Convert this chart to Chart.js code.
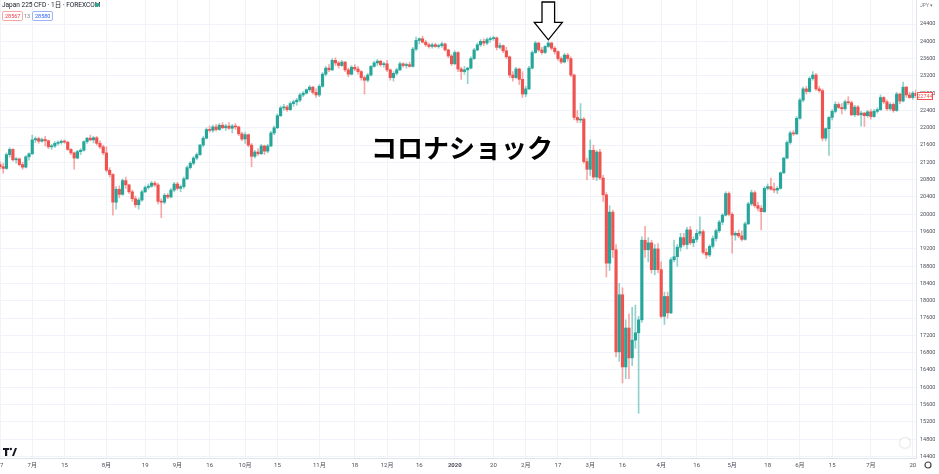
<!DOCTYPE html>
<html>
<head>
<meta charset="utf-8">
<script src="https://cdn.jsdelivr.net/npm/chart.js"></script>
<style>
html, body { margin: 0; padding: 0; background: #fff; }
#wrap { position: relative; width: 939px; height: 474px; overflow: hidden; font-family: Roboto, 'Noto Sans CJK JP', sans-serif; }
#wrap canvas { position: absolute; left: 0; top: 0; }
.hdr { position: absolute; left: 2px; top: 1px; font-size: 6.5px; color: #131722; white-space: nowrap; line-height: 8px; }
.dot { position: absolute; left: 95px; top: 3px; width: 4px; height: 4px; border-radius: 50%; background: #22ab94; }
.box { position: absolute; top: 11px; height: 8px; font-size: 5.5px; line-height: 8px; padding: 0 2px; border-radius: 2px; background: #fff; }
.bid { left: 2px; border: 1px solid #f7a9a7; color: #f23645; }
.spr { position: absolute; left: 24px; top: 12px; font-size: 5.5px; color: #787b86; line-height: 8px; }
.ask { left: 32px; border: 1px solid #9db2f5; color: #2962ff; }
.cur { position: absolute; left: 920px; top: 1px; font-size: 5px; color: #787b86; line-height: 8px; }
.note { position: absolute; left: 371px; top: 133px; font-size: 26px; line-height: 28px; font-weight: 700; color: #000; font-family: 'Noto Sans CJK JP', sans-serif; white-space: nowrap; }
.btn { position: absolute; left: 900px; top: 438px; width: 10px; height: 10px; border-radius: 50%; background: #fff; box-shadow: 0 0 2px rgba(0,0,0,0.3); }
</style>
</head>
<body>
<div id="wrap">
  <canvas id="priceChart" width="939" height="474"></canvas>
  <div class="hdr">Japan 225 CFD · 1日 · FOREXCOM</div>
  <div class="dot"></div>
  <div class="box bid">28567</div>
  <div class="spr">13</div>
  <div class="box ask">28580</div>
  <div class="cur">JPY ▾</div>
  <div class="note">コロナショック</div>
  <div class="btn"></div>
  <svg style="position:absolute;left:3px;top:447px" width="14" height="10" viewBox="0 0 14 10">
    <path d="M0 1h6v2H4.2v6H2V3H0z" fill="#131722"/>
    <circle cx="7.8" cy="2" r="1.2" fill="#131722"/>
    <path d="M9 9l3-8h2l-3 8z" fill="#131722"/>
  </svg>
  <svg style="position:absolute;left:923px;top:460px" width="10" height="10" viewBox="0 0 10 10">
    <circle cx="5" cy="5" r="3" fill="none" stroke="#444" stroke-width="1.2"/>
  </svg>
</div>
<script>
// daily candles: [day, open, high, low, close]
const jun2019 = [
    [17, 21150, 21220, 21050, 21100], [18, 21100, 21180, 20950, 21060], [19, 21060, 21420, 21040, 21380],
    [20, 21380, 21540, 21320, 21500], [21, 21500, 21520, 21230, 21260], [24, 21260, 21320, 21180, 21280],
    [25, 21280, 21300, 21120, 21150], [26, 21150, 21200, 21040, 21090], [27, 21090, 21360, 21070, 21330],
    [28, 21330, 21420, 21250, 21400]
];
const jul2019 = [
    [1, 21400, 21830, 21380, 21720], [2, 21720, 21790, 21660, 21750], [3, 21750, 21780, 21640, 21690],
    [4, 21690, 21760, 21670, 21730], [5, 21730, 21800, 21580, 21700], [8, 21700, 21720, 21520, 21560],
    [9, 21560, 21620, 21500, 21580], [10, 21580, 21680, 21540, 21640], [11, 21640, 21700, 21600, 21660],
    [12, 21660, 21720, 21620, 21690], [15, 21690, 21720, 21640, 21670], [16, 21670, 21680, 21480, 21500],
    [17, 21500, 21520, 21380, 21420], [18, 21420, 21440, 21040, 21300], [19, 21300, 21480, 21280, 21450],
    [22, 21450, 21520, 21380, 21480], [23, 21480, 21700, 21460, 21680], [24, 21680, 21780, 21640, 21760],
    [25, 21760, 21830, 21700, 21720], [26, 21720, 21800, 21650, 21770], [29, 21770, 21800, 21600, 21640],
    [30, 21640, 21700, 21520, 21560], [31, 21560, 21600, 21380, 21420]
];
const aug2019 = [
    [1, 21420, 21560, 20980, 21020], [2, 21020, 21080, 20860, 20920], [5, 20920, 20940, 19980, 20280],
    [6, 20280, 20640, 20120, 20580], [7, 20580, 20660, 20380, 20460], [8, 20460, 20820, 20440, 20780],
    [9, 20780, 20860, 20600, 20680], [12, 20680, 20700, 20480, 20520], [13, 20520, 20560, 20300, 20360],
    [14, 20360, 20420, 20160, 20220], [15, 20220, 20380, 20120, 20330], [16, 20330, 20560, 20300, 20520],
    [19, 20520, 20660, 20500, 20620], [20, 20620, 20700, 20580, 20650], [21, 20650, 20760, 20620, 20720],
    [22, 20720, 20760, 20640, 20680], [23, 20680, 20720, 20240, 20300], [26, 20300, 20360, 19920, 20280],
    [27, 20280, 20480, 20240, 20440], [28, 20440, 20480, 20360, 20400], [29, 20400, 20600, 20380, 20560],
    [30, 20560, 20740, 20520, 20700]
];
const sep2019 = [
    [2, 20700, 20740, 20560, 20600], [3, 20600, 20680, 20520, 20640], [4, 20640, 20860, 20600, 20820],
    [5, 20820, 21120, 20800, 21080], [6, 21080, 21220, 21040, 21180], [9, 21180, 21340, 21140, 21300],
    [10, 21300, 21420, 21260, 21380], [11, 21380, 21620, 21360, 21600], [12, 21600, 21800, 21560, 21760],
    [13, 21760, 22000, 21740, 21960], [16, 21960, 22040, 21900, 21940], [17, 21940, 22060, 21900, 22020],
    [18, 22020, 22080, 21920, 21960], [19, 21960, 22100, 21940, 22060], [20, 22060, 22120, 21980, 22000],
    [23, 22000, 22080, 21940, 22040], [24, 22040, 22120, 21960, 21990], [25, 21990, 22080, 21880, 22040],
    [26, 22040, 22100, 21960, 22020], [27, 22020, 22040, 21820, 21860], [30, 21860, 21900, 21700, 21740]
];
const oct2019 = [
    [1, 21740, 21900, 21640, 21840], [2, 21840, 21860, 21560, 21600], [3, 21600, 21640, 21100, 21340],
    [4, 21340, 21480, 21300, 21440], [7, 21440, 21520, 21360, 21400], [8, 21400, 21620, 21380, 21580],
    [9, 21580, 21600, 21380, 21460], [10, 21460, 21620, 21420, 21580], [11, 21580, 21920, 21560, 21880],
    [14, 21880, 22040, 21840, 22000], [15, 22000, 22320, 21980, 22280], [16, 22280, 22500, 22260, 22460],
    [17, 22460, 22540, 22400, 22480], [18, 22480, 22520, 22380, 22420], [21, 22420, 22600, 22400, 22560],
    [22, 22560, 22640, 22500, 22600], [23, 22600, 22680, 22520, 22640], [24, 22640, 22800, 22600, 22760],
    [25, 22760, 22840, 22720, 22800], [28, 22800, 22900, 22780, 22880], [29, 22880, 22980, 22840, 22940],
    [30, 22940, 22960, 22780, 22820], [31, 22820, 22900, 22700, 22760]
];
const nov2019 = [
    [1, 22760, 23000, 22720, 22960], [4, 22960, 23280, 22940, 23240], [5, 23240, 23420, 23200, 23380],
    [6, 23380, 23460, 23300, 23340], [7, 23340, 23600, 23320, 23560], [8, 23560, 23620, 23440, 23500],
    [11, 23500, 23540, 23380, 23440], [12, 23440, 23560, 23420, 23520], [13, 23520, 23530, 23300, 23340],
    [14, 23340, 23380, 23180, 23240], [15, 23240, 23440, 23220, 23400], [18, 23400, 23460, 23320, 23360],
    [19, 23360, 23420, 23240, 23300], [20, 23300, 23320, 23100, 23160], [21, 23160, 23200, 22780, 23100],
    [22, 23100, 23260, 23060, 23220], [25, 23220, 23440, 23200, 23420], [26, 23420, 23540, 23400, 23500],
    [27, 23500, 23580, 23440, 23540], [28, 23540, 23560, 23420, 23460], [29, 23460, 23520, 23400, 23480]
];
const dec2019 = [
    [2, 23480, 23560, 23300, 23340], [3, 23340, 23360, 23100, 23160], [4, 23160, 23300, 23080, 23260],
    [5, 23260, 23380, 23220, 23340], [6, 23340, 23520, 23320, 23480], [9, 23480, 23500, 23400, 23440],
    [10, 23440, 23500, 23380, 23460], [11, 23460, 23520, 23400, 23420], [12, 23420, 23860, 23400, 23820],
    [13, 23820, 24100, 23780, 24020], [16, 24020, 24080, 23940, 24060], [17, 24060, 24120, 23960, 23980],
    [18, 23980, 24020, 23880, 23920], [19, 23920, 23960, 23840, 23880], [20, 23880, 23960, 23840, 23920],
    [23, 23920, 23960, 23860, 23880], [24, 23880, 23940, 23840, 23900], [26, 23900, 23980, 23860, 23940],
    [27, 23940, 23960, 23780, 23800], [30, 23800, 23820, 23620, 23660], [31, 23660, 23700, 23440, 23480]
];
const jan2020 = [
    [2, 23480, 23780, 23460, 23740], [3, 23740, 23760, 23300, 23360], [6, 23360, 23400, 23120, 23300],
    [7, 23300, 23420, 23240, 23340], [8, 23340, 23400, 23020, 23380], [9, 23380, 23640, 23360, 23600],
    [10, 23600, 23840, 23580, 23800], [13, 23800, 23960, 23780, 23920], [14, 23920, 24040, 23880, 24000],
    [15, 24000, 24060, 23900, 23960], [16, 23960, 24080, 23920, 24040], [17, 24040, 24100, 23980, 24060],
    [20, 24060, 24120, 24020, 24080], [21, 24080, 24100, 23800, 23860], [22, 23860, 23960, 23820, 23900],
    [23, 23900, 23920, 23740, 23780], [24, 23780, 23860, 23600, 23640], [27, 23640, 23660, 23160, 23220],
    [28, 23220, 23300, 23080, 23160], [29, 23160, 23400, 23140, 23360], [30, 23360, 23380, 23000, 23120],
    [31, 23120, 23300, 22700, 22780]
];
const feb2020 = [
    [3, 22780, 22960, 22720, 22900], [4, 22900, 23420, 22880, 23380], [5, 23380, 23780, 23360, 23740],
    [6, 23740, 24000, 23720, 23960], [7, 23960, 23980, 23760, 23800], [10, 23800, 23860, 23700, 23740],
    [11, 23740, 23900, 23720, 23880], [12, 23880, 24000, 23860, 23960], [13, 23960, 23980, 23800, 23840],
    [14, 23840, 23880, 23700, 23760], [17, 23760, 23780, 23560, 23600], [18, 23600, 23640, 23480, 23520],
    [19, 23520, 23720, 23500, 23680], [20, 23680, 23720, 23540, 23600], [21, 23600, 23640, 23180, 23220],
    [24, 23220, 23240, 22180, 22240], [25, 22240, 22400, 22120, 22180], [26, 22180, 22560, 22120, 22200],
    [27, 22200, 22240, 21180, 21220], [28, 21220, 21300, 20800, 21040]
];
const mar2020 = [
    [2, 21040, 21720, 20900, 21480], [3, 21480, 21600, 20800, 20860], [4, 20860, 21480, 20780, 21440],
    [5, 21440, 21500, 20800, 20840], [6, 20840, 20900, 20300, 20450], [9, 20450, 20500, 18550, 18870],
    [10, 18870, 20200, 18700, 20050], [11, 20050, 20100, 19000, 19180], [12, 19180, 19300, 16700, 16820],
    [13, 16820, 18400, 16600, 18140], [16, 18140, 18300, 16100, 16470], [17, 16470, 17560, 16200, 17370],
    [18, 17370, 17700, 16200, 16680], [19, 16680, 17850, 16500, 17090], [20, 17090, 17900, 16900, 17260],
    [23, 17260, 17640, 15400, 17560], [24, 17560, 19480, 17500, 19400], [25, 19400, 19720, 19000, 19180],
    [26, 19180, 19460, 18900, 19340], [27, 19340, 19400, 18640, 18720], [30, 18720, 19300, 18600, 19200],
    [31, 19200, 19320, 18650, 18720]
];
const apr2020 = [
    [1, 18720, 18900, 17600, 17640], [2, 17640, 18200, 17450, 18100], [3, 18100, 18200, 17600, 17720],
    [6, 17720, 19000, 17700, 18950], [7, 18950, 19400, 18900, 19020], [8, 19020, 19300, 18800, 19240],
    [9, 19240, 19560, 19150, 19460], [10, 19460, 19560, 19260, 19300], [13, 19300, 19700, 19200, 19640],
    [14, 19640, 19720, 19300, 19340], [15, 19340, 19480, 19250, 19420], [16, 19420, 19640, 19360, 19560],
    [17, 19560, 19940, 19500, 19600], [20, 19600, 19640, 19080, 19120], [21, 19120, 19200, 18980, 19060],
    [22, 19060, 19300, 19020, 19260], [23, 19260, 19500, 19220, 19440], [24, 19440, 19660, 19380, 19620],
    [27, 19620, 19860, 19580, 19820], [28, 19820, 20020, 19760, 19980], [29, 19980, 20520, 19960, 20480],
    [30, 20480, 20520, 19960, 20000]
];
const may2020 = [
    [1, 20000, 20040, 19100, 19520], [4, 19520, 19600, 19400, 19560], [5, 19560, 19640, 19460, 19500],
    [6, 19500, 19620, 19380, 19420], [7, 19420, 19820, 19400, 19780], [8, 19780, 20280, 19760, 20240],
    [11, 20240, 20560, 20200, 20500], [12, 20500, 20540, 20160, 20200], [13, 20200, 20280, 20080, 20140],
    [14, 20140, 20200, 19640, 20060], [15, 20060, 20640, 20040, 20600], [18, 20600, 20700, 20560, 20640],
    [19, 20640, 20840, 20560, 20580], [20, 20580, 20720, 20500, 20560], [21, 20560, 20640, 20480, 20600],
    [22, 20600, 20980, 20580, 20960], [25, 20960, 21320, 20940, 21300], [26, 21300, 21700, 21280, 21660],
    [27, 21660, 21920, 21620, 21880], [28, 21880, 21940, 21820, 21860], [29, 21860, 22260, 21840, 22220]
];
const jun2020 = [
    [1, 22220, 22680, 22200, 22640], [2, 22640, 22940, 22600, 22900], [3, 22900, 22960, 22780, 22840],
    [4, 22840, 23180, 22820, 23140], [5, 23140, 23300, 23100, 23220], [8, 23220, 23260, 22860, 22900],
    [9, 22900, 22960, 22820, 22860], [10, 22860, 22900, 21700, 21760], [11, 21760, 22000, 21700, 21980],
    [12, 21980, 22260, 21360, 22240], [15, 22240, 22420, 22180, 22380], [16, 22380, 22600, 22340, 22540],
    [17, 22540, 22580, 22440, 22470], [18, 22470, 22560, 22320, 22440], [19, 22440, 22640, 22400, 22600],
    [22, 22600, 22720, 22540, 22580], [23, 22580, 22620, 22280, 22300], [24, 22300, 22520, 22260, 22480],
    [25, 22480, 22520, 22280, 22300], [26, 22300, 22380, 22040, 22340], [29, 22340, 22360, 22030, 22280],
    [30, 22280, 22400, 22240, 22370]
];
const jul2020 = [
    [1, 22370, 22420, 22200, 22260], [2, 22260, 22420, 22240, 22380], [3, 22380, 22460, 22340, 22420],
    [6, 22420, 22760, 22400, 22700], [7, 22700, 22720, 22560, 22600], [8, 22600, 22640, 22400, 22440],
    [9, 22440, 22580, 22400, 22540], [10, 22540, 22580, 22360, 22400], [13, 22400, 22820, 22380, 22780],
    [14, 22780, 22800, 22560, 22620], [15, 22620, 23060, 22600, 22940], [16, 22940, 22960, 22700, 22760],
    [17, 22760, 22820, 22680, 22700], [20, 22700, 22840, 22660, 22800], [21, 22800, 22880, 22700, 22744]
];

const months = [
    ['2019-06', jun2019], ['2019-07', jul2019], ['2019-08', aug2019], ['2019-09', sep2019],
    ['2019-10', oct2019], ['2019-11', nov2019], ['2019-12', dec2019], ['2020-01', jan2020],
    ['2020-02', feb2020], ['2020-03', mar2020], ['2020-04', apr2020], ['2020-05', may2020],
    ['2020-06', jun2020], ['2020-07', jul2020]
];

// bottom axis labels
const tickText = {
    '2019-06-17': '17', '2019-07-01': '7月', '2019-07-15': '15', '2019-08-01': '8月', '2019-08-19': '19',
    '2019-09-02': '9月', '2019-09-16': '16', '2019-10-01': '10月', '2019-10-15': '15', '2019-11-01': '11月',
    '2019-11-18': '18', '2019-12-02': '12月', '2019-12-16': '16', '2020-01-02': '2020', '2020-01-20': '20',
    '2020-02-03': '2月', '2020-02-17': '17', '2020-03-02': '3月', '2020-03-16': '16', '2020-04-01': '4月',
    '2020-04-16': '16', '2020-05-01': '5月', '2020-05-18': '18', '2020-06-01': '6月', '2020-06-15': '15',
    '2020-07-01': '7月', '2020-07-20': '20'
};
const priceTicks = [14400, 14800, 15200, 15600, 16000, 16400, 16800, 17200, 17600, 18000, 18400, 18800,
    19200, 19600, 20000, 20400, 20800, 21200, 21600, 22000, 22400, 22800, 23200, 23600, 24000, 24400];
const arrowDate = '2020-02-12';

const labels = [], opens = [], highs = [], lows = [], closes = [];
months.forEach(([prefix, rows]) => {
    rows.forEach(r => {
        labels.push(prefix + '-' + String(r[0]).padStart(2, '0'));
        opens.push(r[1]); highs.push(r[2]); lows.push(r[3]); closes.push(r[4]);
    });
});

const UP = '#26a69a';
const DOWN = '#ef5350';
const isUp = closes.map((c, i) => c >= opens[i]);

const extras = {
    id: 'extras',
    afterDraw(chart) {
        const ctx = chart.ctx;
        const xs = chart.scales.x, ys = chart.scales.y;
        const area = chart.chartArea;

        // last price tag on the price axis
        const last = closes[closes.length - 1];
        const py = Math.round(ys.getPixelForValue(last));
        ctx.save();
        ctx.fillStyle = '#fff';
        ctx.fillRect(area.right + 1, py - 4, 16, 8);
        ctx.strokeStyle = DOWN;
        ctx.lineWidth = 1;
        ctx.strokeRect(area.right + 1.5, py - 3.5, 15, 7);
        ctx.fillStyle = DOWN;
        ctx.font = '5.5px Roboto';
        ctx.textAlign = 'center';
        ctx.textBaseline = 'middle';
        ctx.fillText(String(last), area.right + 9, py + 0.5);

        // arrow over the pre-crash top
        const idx = labels.indexOf(arrowDate);
        const ax = xs.getPixelForValue(idx);
        const tip = ys.getPixelForValue(highs[idx]) - 1.5;
        const head = tip - 17.5;
        ctx.beginPath();
        ctx.moveTo(ax - 6.3, 2);
        ctx.lineTo(ax + 6.3, 2);
        ctx.lineTo(ax + 6.3, head);
        ctx.lineTo(ax + 14, head);
        ctx.lineTo(ax, tip);
        ctx.lineTo(ax - 14, head);
        ctx.lineTo(ax - 6.3, head);
        ctx.closePath();
        ctx.fillStyle = '#fff';
        ctx.fill();
        ctx.strokeStyle = '#000';
        ctx.lineWidth = 1.3;
        ctx.stroke();
        ctx.restore();
    }
};

const ctx = document.getElementById('priceChart').getContext('2d');
new Chart(ctx, {
    type: 'bar',
    data: {
        labels: labels,
        datasets: [
            {
                label: 'wick',
                data: labels.map((_, i) => [lows[i], highs[i]]),
                backgroundColor: isUp.map(u => u ? 'rgba(38,166,154,0.5)' : 'rgba(239,83,80,0.5)'),
                barThickness: 1,
                grouped: false,
                order: 2,
                clip: 0
            },
            {
                label: 'body',
                data: labels.map((_, i) => [opens[i], closes[i]]),
                backgroundColor: isUp.map(u => u ? UP : DOWN),
                barThickness: 2.5,
                minBarLength: 1,
                grouped: false,
                order: 1,
                clip: 0
            }
        ]
    },
    options: {
        responsive: false,
        animation: false,
        devicePixelRatio: 1,
        layout: { padding: 0 },
        plugins: {
            legend: { display: false },
            tooltip: { enabled: false }
        },
        scales: {
            x: {
                type: 'category',
                offset: false,
                grid: {
                    offset: false,
                    drawTicks: false,
                    color: c => tickText[labels[c.index]] ? '#f0f3fa' : 'rgba(0,0,0,0)'
                },
                border: { color: '#e0e3eb' },
                ticks: {
                    autoSkip: false,
                    maxRotation: 0,
                    minRotation: 0,
                    padding: 4,
                    color: '#4a4e59',
                    font: c => ({
                        size: 6,
                        family: "Roboto, 'Noto Sans CJK JP'",
                        weight: c.tick && c.tick.label === '2020' ? 'bold' : 'normal'
                    }),
                    callback: (v, i) => tickText[labels[i]] || ''
                },
                afterFit: s => { s.height = 16; s.paddingLeft = 0; s.paddingRight = 0; }
            },
            y: {
                position: 'right',
                min: 14365,
                max: 24955,
                grid: { color: '#f0f3fa', drawTicks: false },
                border: { color: '#e0e3eb' },
                afterBuildTicks: s => { s.ticks = priceTicks.map(v => ({ value: v })); },
                ticks: {
                    padding: 4,
                    color: '#4a4e59',
                    font: { size: 5.5, family: 'Roboto' },
                    callback: v => String(v)
                },
                afterFit: s => { s.width = 23; s.paddingTop = 0; s.paddingBottom = 0; }
            }
        }
    },
    plugins: [extras]
});
</script>
</body>
</html>
